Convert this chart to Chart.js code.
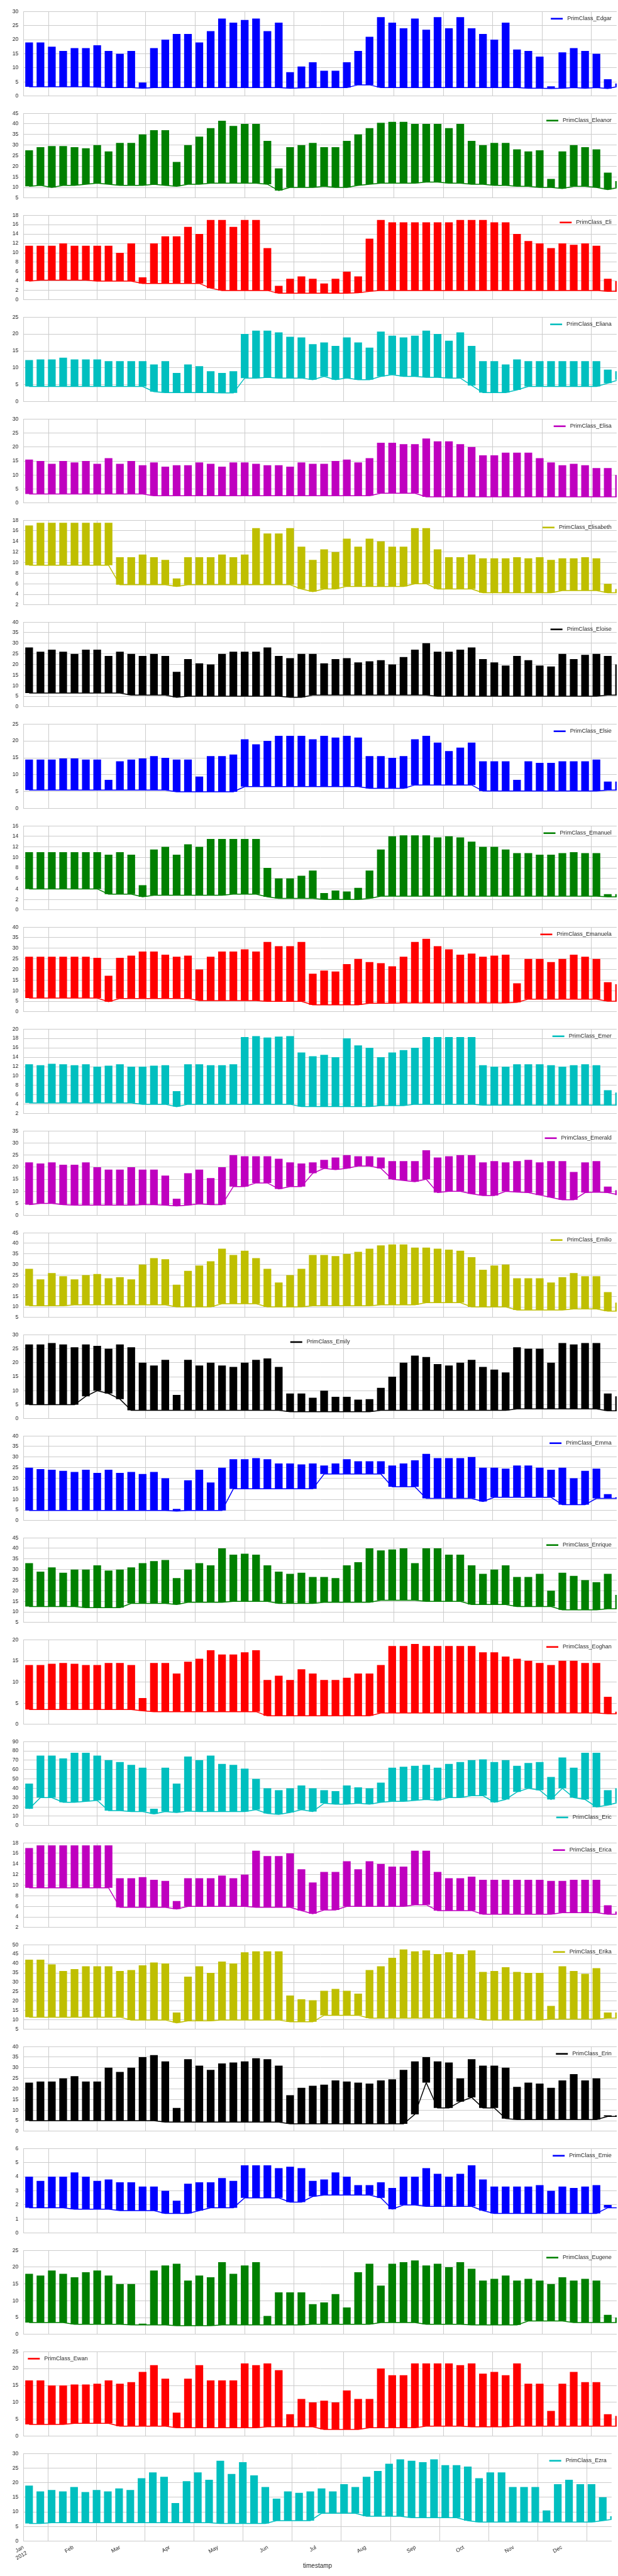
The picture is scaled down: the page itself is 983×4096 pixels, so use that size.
<!DOCTYPE html>
<html><head><meta charset="utf-8">
<script src="https://cdn.jsdelivr.net/npm/chart.js@4.4.1/dist/chart.umd.min.js"></script>
<style>
html,body{margin:0;padding:0;background:#fff;}
#wrap{position:relative;width:983px;height:4096px;overflow:hidden;background:#fff;}
#wrap canvas{position:absolute;left:0;}
</style></head><body><div id="wrap"></div>
<script>
// ---------- x categories (days of 2012, week = Mon..Fri block centre) ----------
const monthTickDays = [0,31,60,91,121,152,182,213,244,274,305,335];
const monthTickLabels = [['Jan','2012'],'Feb','Mar','Apr','May','Jun','Jul','Aug','Sep','Oct','Nov','Dec'];
const weekMidDays = [3.5,10.5,17.5,24.5,31.5,38.5,45.5,52.5,59.5,66.5,73.5,80.5,87.5,94.5,101.5,108.5,115.5,122.5,129.5,136.5,143.5,150.5,157.5,164.5,171.5,178.5,185.5,192.5,199.5,206.5,213.5,220.5,227.5,234.5,241.5,248.5,255.5,262.5,269.5,276.5,283.5,290.5,297.5,304.5,311.5,318.5,325.5,332.5,339.5,346.5,353.5,360.5,367.5];

// ---------- series: weekly working-day peak and base level ----------
const edgarHigh = [19,19,17.5,16,17,17,18,16,15,16,4.8,17,20,22,22,19,23,27.5,26,27,27.5,23,26,8.5,10.5,12,9,9,12,16,21,28,26,24,27.5,23.5,28,24,28,24,22,20,26,16.5,16,14,3.5,15.5,17,16,15,6,4.5];
const edgarLow = [3.3,3.3,3.3,3.3,3.3,3.3,3.2,3,3,3,2.8,3,3,3,3,3,3,3,3,3,3,3,3,2.8,2.9,3,3,3,3,4,4,3,3,3,3,3,3,3,3,3,3,3,3,3,2.8,2.8,2.7,2.8,3,2.8,3,2.7,3.5];
const eleanorHigh = [27.5,29,29.5,29.5,29,28.5,30,27,31,31,35,37,37,22,30,34,38,41.5,39,40,40,32,19,29,30,31,29,29,32,35,38,40.5,41,41,40,40,40,38,40,32,30,31,31,28,27,27.5,14,27,30,29,28,17,13];
const eleanorLow = [10.5,11,10,11,11,11.5,12,11.5,11,11,11,11.5,11,10.5,11.5,11.5,12,12,12,12,12,11.5,8.5,10,10,10,10.5,10,10,11,11.5,12,12,12,12,12.5,12.5,12,12,11.5,11.5,11,11,10.5,10.5,10,10,9.5,10.5,10.5,10,9,10];
const eliHigh = [11.5,11.5,11.5,12,11.5,11.5,11.5,11.5,10,12,4.8,12,13.5,13.5,15.5,14,17,17,15.5,17,17,11,3,4.5,5,4.5,3.5,4.5,6,5,13,17,16.5,16.5,16.5,16.5,16.5,16.5,17,17,17,16.5,16.5,14,12.5,12,11,12,11.7,12,11.5,4.5,4];
const eliLow = [4,4.2,4.2,4.2,4.2,4.2,4,4,4,4,3.5,3.5,3.5,3.5,3.5,3.5,2.5,2,2,2,2,2,1.4,1.4,1.4,1.4,1.4,1.4,1.4,1.5,1.8,2,2,2,2,2,2,2,2,2,2,2,2,2,2,2,2,2,2,2,2,1.8,1.8];
const elianaHigh = [12.3,12.5,12.5,13,12.5,12.5,12.5,12,12,12,12,11,12,8.5,11,10.5,9,8.5,9,20,21,21,20.5,19.2,19,17,17.5,16.5,19,17.5,16,20.7,19.5,19,19.5,21,20,18,20.5,16.5,12,12,11,12.5,12,12,12,12,12,12,12,9.5,9];
const elianaLow = [4.5,4.5,4.5,4.5,4.5,4.5,4.5,4.5,4.5,4.5,4.5,3,2.7,2.7,2.7,2.7,2.7,2.6,2.6,7,7,7.2,7,7,7,6.5,7.5,6.5,7,6.5,6.5,7.5,8,7.5,7.5,7.2,7.2,7,7,4.8,2.7,2.7,2.7,3.5,4.5,4.5,4.5,4.5,4.5,4.5,4.5,5.5,6.5];
const elisaHigh = [15.5,15,14,15,14.5,15,14,16,14,15,13.5,14.5,13,13.5,13.5,14.5,14,13,14.5,14.5,14,13.5,13.5,13,14.5,14,14,15,15.5,14.5,16,21.5,21.5,21,21,23,22,22,21,20,17,17,18,18,18,16,14.5,13.5,14,13.5,12.5,12.5,10];
const elisaLow = [3.2,3.2,3.2,3.2,3.2,3.2,3.2,3.2,3.2,3.2,3.2,2.6,2.6,2.6,2.6,2.6,2.6,2.6,2.6,2.6,2.6,2.6,2.6,2.6,2.6,2.6,2.6,2.6,2.6,2.6,2.6,3.5,3.5,3.5,3.5,2.2,2.2,2.2,2.2,2.2,2.2,2.2,2.2,2.2,2.2,2.2,2.2,2.2,2.2,2.2,2.2,2.2,2.2];
const elisabethHigh = [17,17.5,17.5,17.5,17.5,17.5,17.5,17.5,11,11,11.5,11,10.5,7,11,11,11,11.5,11,11.5,16.5,15.5,15.5,16.5,13,10.5,12.5,12,14.5,13,14.5,14,13,13,16.5,16.5,12.5,11,11,11.5,10.8,10.8,10.8,11,10.8,11,10.5,10.8,10.8,11,10.8,6,5];
const elisabethLow = [9.5,9.5,9.5,9.5,9.5,9.5,9.5,9.5,5.8,5.8,5.8,5.8,5.8,5.5,5.8,5.8,5.8,5.8,5.8,5.8,5.8,5.8,5.8,5.8,5,4.5,5,5,5.5,5.5,5.5,5.5,5.5,5.5,6,6,5,5,5,5,4.3,4.3,4.3,4.3,4.3,4.3,4.3,4.7,4.7,4.7,4.7,4.3,4.3];
const eloiseHigh = [28,26,27,26,25,27,27,24,26,25,24,25,24,16.5,22.5,20.5,20,25,26,26,26,28,24,23,25,25,20.5,22.5,23,21,21.5,22,20,23.5,27,30,26,26,27,28,22.5,21,19.5,24,22,19.5,19,25,22.5,24.5,25,24,20];
const eloiseLow = [6.5,6.5,6.5,6.5,6.5,6.5,6.5,6.5,6.5,5.5,5.5,5.5,5.5,4.5,5,5,5,5,5,5,5,5,5,4.5,4.5,5.5,5.5,5.5,5.5,5.5,5.5,5.5,5.5,5.5,5.5,5.5,5,5,5,5,5,5,5,5,5,5,5,5,5,5,5,5.5,5.5];
const elsieHigh = [14.5,14.5,14.5,14.8,14.8,14.5,14.5,8.5,14,14.5,14.8,15.5,15,14.5,14.5,9.5,15.5,15.5,16,20.5,19,20,21.5,21.5,21.5,20.5,21.5,21,21.5,21,15.5,15.5,15,15.5,20.5,21.5,19.5,17,18,19.5,14,14,14,8.5,14,13.5,13.5,14,14,14,14.5,8,8];
const elsieLow = [5.5,5.5,5.5,5.5,5.5,5.5,5.5,5.5,5.5,5.5,5.5,5.5,5.5,5,5,5,5,5,5,6.5,6.5,6.5,6.5,6.5,6.5,6.5,6.5,6.5,6.5,6.5,6,6,6,6,7,7,7,7,7,7,5.2,5.2,5.2,5.2,5.2,5.2,5.2,5.2,5.2,5.2,5.2,5.5,5.5];
const emanuelHigh = [11,11,11,11,11,11,11,10.5,11,10.5,4.7,11.5,12,10.5,12.5,12,13.5,13.5,13.5,13.5,13.5,8,6,6,6.5,7.5,3.2,3.7,3.5,4.2,7.5,11.5,14,14.2,14.2,14.2,13.8,14,13.8,13,12,12,11.5,10.8,10.8,10.5,10.5,10.8,11,10.8,10.8,3,3];
const emanuelLow = [4,4,4,4,4,4,4,3,3,3,2.5,2.8,2.8,2.8,2.8,2.8,2.8,2.8,3,3,3,2.5,2.2,2.2,2.2,2.2,2,2,2,2,2.2,2.6,2.6,2.6,2.6,2.6,2.6,2.6,2.6,2.6,2.6,2.6,2.6,2.6,2.6,2.6,2.6,2.6,2.6,2.6,2.6,2.5,2.5];
const emanuelaHigh = [26,26,26,26,26,26,25.5,17,25.5,26.5,28.5,28.5,27,26,26.5,20,26,28.5,28.5,29.5,28.5,33,31,31,33,18,19.5,19,22.5,25,23.5,23,21.5,26,33,34.5,31,29.5,27,27.5,26,26.5,27,13.5,25,25,23.5,25,27,26,25,14,13];
const emanuelaLow = [6.5,6.5,6.5,6.5,6.5,6.5,6.5,4.8,6.3,6.3,6.3,6.3,6.3,6.3,6.3,5.3,5.3,5.3,5.3,5.3,5.3,4.9,4.9,4.9,4.9,3.3,3.3,3.3,3.3,3.3,4,4,4,4.2,4.2,4.2,4.2,4.2,4.2,4.2,4.2,4.2,4.2,4.5,6,6,6,6,6,6,6,5,5];
const emerHigh = [12.5,12.3,12.6,12.5,12.3,12.5,12,12.2,12.5,12,12,12.2,12.3,6.8,12.5,12.5,12.3,12.3,12.5,18.3,18.5,18.2,18.4,18.5,15,14.2,14.5,14,18,16.5,16,14,15,15.5,16,18.3,18.3,18.3,18.3,18.3,12.3,12,12,12.5,12.5,12.5,12.3,12,12.3,12.5,12.3,7,6.5];
const emerLow = [4.3,4.3,4.3,4.3,4.3,4.3,4.3,4.3,4.3,4.3,4,4,4,3.5,4,4,4,4,4,4,4,4,4,4,3.5,3.5,3.5,3.5,3.5,3.5,3.5,3.7,3.7,3.7,4,4,4,4,4,4,3.8,3.8,3.8,3.8,3.8,3.8,3.8,3.8,3.8,3.8,3.8,3.8,3.8];
const emeraldHigh = [22,21.5,22,21,21,22,20,19,19,20,19,19,16.5,7,17.5,19,15.5,20,25,24.5,24.5,24.5,23.5,22,21.5,22,23,24,25,24.5,24.5,24,22.5,22.5,22.5,27,24,24.5,25,25,22,22.5,22,22.5,23,22,22.5,22.5,18,22,22.5,12,10.5];
const emeraldLow = [4.5,5,5,4.5,4.3,4.3,4.3,4.3,4.3,4.3,4.5,4.5,4.3,4,4.3,4.8,4.5,4.5,12,12,13.5,13.5,11,12,12,17.5,19.5,19,19.5,20.5,20.5,19.5,15,14.5,14,15,9.5,10,10,9,8.3,8.3,10,9.7,9.5,8.5,7.5,6.5,6.5,9.5,9.7,9.5,8.5];
const emilioHigh = [28,23,26,24.5,23,25,25.5,23.5,24,23,30,33,32.5,20.5,27,29.5,31.5,37.5,34.5,36.5,33,28,21.5,25,28,34.5,34.5,34,35,36,37.5,39,39.5,39.5,38,38,37.5,37,36.5,33.5,27.5,29.5,30,23.5,23.5,23.5,21.5,24,26,24.5,24.5,17,12];
const emilioLow = [10.5,10.5,10.5,10.5,11,11,11,11,11,11,11,11,11,10,10,10,10,11.5,11.5,11.5,11.5,10,10,10,10,10.5,10.5,10.5,10.5,10.5,10.5,11,11,11,11,12,12,12,12,10,10,10,10,8.5,8.5,8.5,8.5,8.5,9,9,9,8,8];
const emilyHigh = [26.5,26.5,27,26.5,25.5,26.5,26,25,26.5,25.5,20,19,21,8.5,21,19,20,19,18.5,20,21,21.5,18.5,9,9,7.5,10,7.8,7.8,6.8,7,11,15,20,22.5,22,19.5,19,20,21,18.5,17.5,16.5,25.5,25,25,20,27,26.5,27,27,9,8];
const emilyLow = [5,5,5,5,5,8,10,9,7,3,3,3,3,3,3,3,3,3,3,3,3,3,3,2.5,2.5,2.5,2.5,2.5,2.5,2.5,2.5,3,3,3,3,3,3,3,3,3,3,3,3,3.5,3.5,3.5,3.5,3.5,3.5,3.5,3.5,2.8,2.8];
const emmaHigh = [25,24.3,24,23.5,23,24,22.5,24,22.5,23,22,23,20,5.5,19,24,18,25,29,29,29.5,29,27,27,26.5,27,26,27,29,28,28,28,26,27,28.5,31.5,29.5,29.5,29.5,30,25,25,24.5,26,26,25,24,25,20,23.5,24.5,12.5,11];
const emmaLow = [4.8,4.8,4.8,4.8,4.8,4.8,4.8,4.8,4.8,4.8,4.8,4.8,4.8,4.5,4.8,4.8,4.8,4.8,15,15,15,15,15,15,15,15,22,22,22,22,22,22,16,16,16,10.5,10.5,10.5,10.5,10.5,9,11,11,11,11,11,11,7.5,7.5,7.5,10.5,10.5,10.5];
const enriqueHigh = [33,29,31,28.5,30,30,32,29.5,30,31,33,34,34.5,26,30,33,32,40,37,37.5,37,32,29,28,28.5,26.5,26.5,26,32,33.5,40,39,39.5,40,33,40,40,37,37,32,28,30,32,26.5,26.5,28,20,28.5,27,25,24,28,18];
const enriqueLow = [12.5,12.5,12.5,12.5,12.5,12,12,12,12,14,14,14,14,13.5,14.5,14.5,14.5,14.5,15,15,15,15,14,14,14,14,14.5,14.5,14.5,14.5,14.5,15.5,15.5,15.5,15.5,15,15,15,15,13.5,13.5,13.5,13.5,12.5,12.5,12.5,12.5,11,11,11,11,11.5,11.5];
const eoghanHigh = [14,14,14.3,14.5,14.3,14,14,14.5,14.5,14,6.2,14.5,14.5,12,14.8,15.5,17.5,16.5,16.5,17,17.5,10.5,11.5,10.5,13,12,10.5,10.5,11,12,12,14,18.5,18.5,19,18.5,18.5,18.5,18.5,18.5,17,17,16,15.5,15,14.5,14,15,15,14.5,14.5,6.5,3];
const eoghanLow = [3.5,3.5,3.5,3.5,3.5,3.5,3.5,3.5,3.5,3.5,3.2,3,3,3,3,3,3,3,3,3,3,2,2,2,2,2,2,2,2,2,2,2.7,2.7,2.7,2.7,2.7,2.7,2.7,2.7,2.7,2.7,2.7,2.7,2.7,2.7,2.7,2.7,2.7,2.7,2.7,2.7,2.5,2.5];
const ericHigh = [45,75,75,72,78,78,75,70,68,65,62,18,62,45,74,70,75,66,65,61,50,40,38,40,43,40,38,37,43,41,40,46,62,63,64,65,62,66,68,70,71,68,70,64,67,68,52,73,62,78,78,38,40];
const ericLow = [18,30,30,25,25,26,27,16,16,15,15,12.5,15,14,15.5,15,15,15,15,15,17,13,12,14,17,15,24,23,23,24,23,25,26,26,27,28,27,30,30,32,32,25,28,36,40,38,28,40,30,28,20,22,25];
const ericaHigh = [17,17.5,17.5,17.5,17.5,17.5,17.5,17.5,11.3,11.3,11.5,11,10.8,7,11.3,11.3,11.3,11.8,11.3,12,16.5,15.5,15.5,16,13,10.5,12.5,12.5,14.5,13,14.5,14,13.5,13.5,16.5,16.5,12.5,11.3,11.3,11.6,11,11,11,11,11,11,10.8,10.8,11,11,11,6.2,5];
const ericaLow = [9.5,9.5,9.5,9.5,9.5,9.5,9.5,9.5,5.8,5.8,5.8,5.8,5.8,5.5,6,6,6,6,6,6,5.8,5.8,5.8,5.8,5.2,4.6,5.3,5.3,6,6,6,6,6,6,6.3,6.3,5.2,5.2,5.2,5.2,4.5,4.5,4.5,4.5,4.5,4.5,4.5,4.8,4.8,4.8,4.8,4.5,4.5];
const erikaHigh = [42,42,39.5,36,37,38.5,38.5,38.5,36,36.5,39,40.5,40,14,33,38.5,35,41,40,46,46.5,46.5,46.5,23,21,20.5,25.5,26.5,25.5,24,36.5,38.5,43,47.5,46.5,47,45,46,45,47,35.5,36,38,35.5,35,35,17.5,38.5,36,34.5,37.5,14,14];
const erikaLow = [11.5,11.5,11.5,11.5,11.5,11.5,11.5,11.5,11.5,10,10,10,10,8.5,9.5,9.5,9.5,10,10,10,10,10,10,9,9,9,12.5,12.5,12.5,12.5,11,11,11,11,11,11,11,11,11,11,10,10,10,10,10,10,10.5,10.5,10.5,10.5,10.5,11,11];
const erinHigh = [23,23.5,23.5,25,26,23.5,23.5,30,28,30,35,36,33,11,34,31,29,32,32.5,33,34.5,34,31,17,20.5,21.5,22,24,23.5,23,22.5,24,24.5,29,33,35,33,32.5,25,34,31,31,30,21,23,22.5,20.5,24,27,24,25,7.5,7.5];
const erinLow = [5,5,5,5,5,5,5,5,5,5,5,5,4.3,4.3,4.3,4.3,4.3,4.3,4.3,4.3,4.3,4.3,4.3,3.5,3.5,3.5,3.5,3.5,3.5,3.5,3.5,3.5,3.5,3.5,8,23,11,11,14,16,11,11,6,5.5,5.5,5.5,5.5,5.5,5.5,5.5,5.5,7,7];
const ernieHigh = [4,3.7,4,4,4.3,4,3.7,3.8,3.6,3.6,3.3,3.3,3,2.3,3.5,3.6,3.6,3.9,3.7,4.8,4.8,4.8,4.6,4.7,4.6,3.7,3.8,4.3,4,3.4,3.4,3.6,3.2,4,4,4.6,4.2,4,4.2,4.8,3.8,3.3,3.3,3.3,3.3,3.4,3,3.3,3.2,3.3,3.4,2,1.8];
const ernieLow = [1.8,1.8,1.8,1.8,1.7,1.7,1.7,1.7,1.6,1.6,1.6,1.6,1.4,1.4,1.4,1.6,1.8,1.8,1.8,2.5,2.5,2.5,2.5,2.2,2.2,2.6,2.7,2.7,2.7,2.7,2.7,2.5,1.7,2,2,1.9,1.9,1.9,1.9,1.9,1.6,1.4,1.4,1.4,1.4,1.4,1.4,1.4,1.4,1.4,1.4,1.8,1.8];
const eugeneHigh = [18,17.5,19,18,17,18.5,19,17.5,15,15,3.2,19,20.5,21,16,17.5,17,21.5,18,20.5,21.5,5.5,12.5,12.5,12.5,9,9.5,12,8,18.5,21,14.5,21,21.5,22,20.5,21,20,21.5,19.5,16,16.5,17.5,16,16.5,16,15,17,16,16.5,16,5.8,5];
const eugeneLow = [3.5,3.5,3.5,3.5,3,3,3,3,3,2.8,2.8,2.8,2.8,2.6,2.6,2.6,2.6,2.8,2.8,2.8,2.8,2.8,2.8,2.8,2.8,3,3,3,3,3,3,3.5,3.5,3.5,3.5,3,3,3,3,2.8,2.8,2.8,2.8,2.8,4,4,4,4,3.5,3.5,3.5,3.5,3.5];
const ewanHigh = [16.5,16.5,15,15,15.3,15.3,15.5,16.5,15.5,16,19,21,17,7,17,21,16.5,16.5,16.5,21.5,21,21.5,19.5,6.5,11,10,10.5,10,13.5,11,11,20,18,18,21.5,21.5,21.5,21.5,21,21.5,18.5,19,18,21.5,15.5,15.5,7.5,15.5,19,16,16,6.5,6];
const ewanLow = [3.5,3.5,3.5,3.5,3.8,3.8,3.8,3.8,3,3,3,3,3,2.5,2.5,2.5,2.5,2.5,2.5,2.5,2.5,2.8,2.8,2.8,2.8,2.8,2,2,2,2,2.5,2.5,2.5,2.5,2.5,3,3,3,3,2.8,2.8,2.8,2.8,3,3,3,3,3,3,3,3,3,3];
const ezraHigh = [19,17,17.5,17,18.5,16.8,17.5,17,18,17.5,21.5,23.5,22,13,20.5,23.5,21,27.5,23,27,22.5,18.5,14.5,17,16.5,17,18,17,19.5,18.5,22,24,26.5,28,27.5,27,28,26,26,25.5,21.5,23.5,23.5,18.5,18.5,18.5,10.5,19.5,21,19.5,19.5,15,8.5];
const ezraLow = [6,6,6.3,6.3,6.3,6.3,6.3,6.3,6.3,6.3,6.3,6.3,6.3,6.3,6.3,6.3,6.3,6,6,6,6,6,7,7,7,7,9.5,9.5,9.5,9.5,8.5,8.5,8.5,8.5,8,8,8,8,8,7,6.5,6.5,6.5,6.5,6.5,6.5,6.5,6.5,6.5,6.5,6.5,7,7.5];

const seriesNames = ['PrimClass_Edgar','PrimClass_Eleanor','PrimClass_Eli','PrimClass_Eliana','PrimClass_Elisa','PrimClass_Elisabeth','PrimClass_Eloise','PrimClass_Elsie','PrimClass_Emanuel','PrimClass_Emanuela','PrimClass_Emer','PrimClass_Emerald','PrimClass_Emilio','PrimClass_Emily','PrimClass_Emma','PrimClass_Enrique','PrimClass_Eoghan','PrimClass_Eric','PrimClass_Erica','PrimClass_Erika','PrimClass_Erin','PrimClass_Ernie','PrimClass_Eugene','PrimClass_Ewan','PrimClass_Ezra'];
const seriesHigh = [edgarHigh,eleanorHigh,eliHigh,elianaHigh,elisaHigh,elisabethHigh,eloiseHigh,elsieHigh,emanuelHigh,emanuelaHigh,emerHigh,emeraldHigh,emilioHigh,emilyHigh,emmaHigh,enriqueHigh,eoghanHigh,ericHigh,ericaHigh,erikaHigh,erinHigh,ernieHigh,eugeneHigh,ewanHigh,ezraHigh];
const seriesLow = [edgarLow,eleanorLow,eliLow,elianaLow,elisaLow,elisabethLow,eloiseLow,elsieLow,emanuelLow,emanuelaLow,emerLow,emeraldLow,emilioLow,emilyLow,emmaLow,enriqueLow,eoghanLow,ericLow,ericaLow,erikaLow,erinLow,ernieLow,eugeneLow,ewanLow,ezraLow];
const yMins = [0,5,0,0,0,2,0,0,0,0,2,0,5,0,0,5,0,0,2,5,0,0,0,0,0];
const yMaxs = [30,45,18,25,30,18,40,25,16,40,20,35,45,30,40,45,20,90,18,50,40,6,25,25,30];
const ySteps = [5,5,2,5,5,2,5,5,2,5,2,5,5,5,5,5,5,10,2,5,5,1,5,5,5];

// ---------- styles ----------
const cycleColors = ['#0000ff','#008000','#ff0000','#00bfbf','#bf00bf','#bfbf00','#000000'];
const legendPlaces = ['ur','ur','ur','ur','ur','ur','ur','ur','ur','ur','ur','ur','ur','uc','ur','ur','ur','lr','ur','ur','ur','ur','ur','ul','ur'];
const GRID = '#cccccc', TEXT = '#262626';
const FONT = "'Liberation Sans', Arial, sans-serif";
Chart.defaults.font.family = FONT;
Chart.defaults.color = TEXT;

const W = 983, S = 0.91;
const plotLeft = 41 * S, plotRight = 1077.9 * S;
const firstTop = 15.33 * S, pitch = 177.78 * S, plotH = 158 * S;

const primLegend = {
  id: 'primLegend',
  afterDatasetsDraw(chart, args, opts) {
    const {ctx, chartArea: a} = chart;
    ctx.save();
    ctx.font = '9.1px ' + FONT;
    const tw = ctx.measureText(opts.text).width;
    const sw = 19, gap = 7, total = sw + gap + tw;
    let x0, yc;
    if (opts.pos === 'ul') { x0 = a.left + 7; yc = a.top + 11.3; }
    else if (opts.pos === 'uc') { x0 = (a.left + a.right) / 2 - total / 2; yc = a.top + 11.8; }
    else if (opts.pos === 'lr') { x0 = a.right - 8 - total; yc = a.bottom - 13; }
    else { x0 = a.right - 8 - total; yc = a.top + 11.6; }
    ctx.strokeStyle = opts.color;
    ctx.lineWidth = 2.6;
    ctx.beginPath(); ctx.moveTo(x0, yc); ctx.lineTo(x0 + sw, yc); ctx.stroke();
    ctx.fillStyle = TEXT;
    ctx.textBaseline = 'middle';
    ctx.textAlign = 'left';
    ctx.fillText(opts.text, x0 + sw + gap, yc);
    ctx.restore();
  }
};

const wrap = document.getElementById('wrap');
seriesNames.forEach((name, i) => {
  const isLast = i === seriesNames.length - 1;
  const top = firstTop + pitch * i;
  const cTop = Math.floor(top) - 8;
  const padTop = top - cTop;
  const xH = isLast ? 45.5 : 0;
  const cH = Math.ceil(padTop + plotH + xH + (isLast ? 1 : 8));
  const padBottom = cH - padTop - plotH - xH;
  const cv = document.createElement('canvas');
  cv.width = W; cv.height = cH;
  cv.style.top = cTop + 'px'; cv.style.width = W + 'px'; cv.style.height = cH + 'px';
  wrap.appendChild(cv);
  const col = cycleColors[i % cycleColors.length];
  const hi = seriesHigh[i], lo = seriesLow[i];
  new Chart(cv, {
    type: 'bar',
    data: {
      datasets: [
        { type: 'line', label: name, data: weekMidDays.map((d, k) => ({x: d, y: lo[k]})),
          borderColor: col, backgroundColor: col, borderWidth: 1.5, pointRadius: 0, tension: 0, order: 2 },
        { type: 'bar', label: name, data: weekMidDays.map((d, k) => ({x: d, y: [lo[k], hi[k]]})),
          backgroundColor: col, borderWidth: 0, barPercentage: 0.68, categoryPercentage: 1, order: 1 }
      ]
    },
    options: {
      responsive: false, animation: false, events: [],
      layout: { padding: { top: padTop, bottom: padBottom, left: 0, right: W - plotRight } },
      scales: {
        x: {
          type: 'linear', min: 0, max: 366, offset: false,
          afterBuildTicks: s => { s.ticks = monthTickDays.concat([366]).map(v => ({value: v})); },
          afterFit: s => { s.height = xH; },
          grid: { color: GRID, lineWidth: 1, drawTicks: false },
          border: { color: GRID, width: 1 },
          ticks: { display: isLast, autoSkip: false, maxRotation: 30, minRotation: 30, padding: 5,
                   font: { size: 8.6 }, color: TEXT,
                   callback: (v, idx) => idx < monthTickLabels.length ? monthTickLabels[idx] : '' },
          title: { display: isLast, text: 'timestamp', font: { size: 10 }, color: TEXT, padding: 0 }
        },
        y: {
          min: yMins[i], max: yMaxs[i],
          afterFit: s => { s.width = plotLeft; },
          grid: { color: GRID, lineWidth: 1, drawTicks: false },
          border: { color: GRID, width: 1 },
          ticks: { stepSize: ySteps[i], padding: 8, font: { size: 8.6 }, color: TEXT }
        }
      },
      plugins: {
        legend: { display: false }, tooltip: { enabled: false },
        primLegend: { text: name, color: col, pos: legendPlaces[i] }
      }
    },
    plugins: [primLegend]
  });
});
</script></body></html>
